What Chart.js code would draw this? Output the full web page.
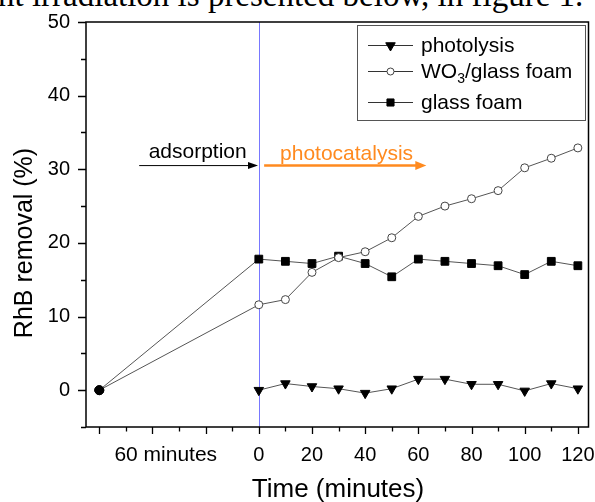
<!DOCTYPE html>
<html>
<head>
<meta charset="utf-8">
<script src="https://cdn.jsdelivr.net/npm/chart.js@4.4.0/dist/chart.umd.min.js"></script>
<style>
    html, body { margin: 0; padding: 0; background: #fff; }
    #wrap { position: relative; width: 595px; height: 502px; overflow: hidden; }
    #caption { position: absolute; left: -2px; top: -21px; font: 33px 'Liberation Serif', 'Times New Roman', serif; line-height: 33px; white-space: nowrap; color: #000; }
    canvas { position: absolute; left: 0; top: 0; }
</style>
</head>
<body>
<div id="wrap">
    <div id="caption">nt irradiation is presented below, in figure 1.</div>
    <canvas id="chart" width="595" height="502"></canvas>
</div>
<script>
// temps de prélèvement sous irradiation (minutes)
const timePoints = [0, 10, 20, 30, 40, 50, 60, 70, 80, 90, 100, 110, 120];
// point de départ : 60 minutes d'adsorption dans le noir
const adsorptionStart = -60;
const adsorptionValue = 0;

// RhB removal (%)
const photolysis   = [0, 0.9, 0.5, 0.2, -0.4, 0.2, 1.5, 1.5, 0.8, 0.8, -0.1, 0.9, 0.2];
const wo3GlassFoam = [11.6, 12.3, 16.0, 18.0, 18.8, 20.7, 23.6, 25.0, 26.0, 27.1, 30.2, 31.5, 32.9];
const glassFoam    = [17.8, 17.5, 17.2, 18.2, 17.2, 15.4, 17.8, 17.5, 17.2, 16.9, 15.7, 17.5, 16.9];

// graduations
const xTickLabels = [0, 20, 40, 60, 80, 100, 120];
const yTickLabels = [0, 10, 20, 30, 40, 50];

const FONT = "'Liberation Sans', Arial, sans-serif";
const LINE = '#555';

function toPoints(values, withStart) {
    const pts = timePoints.map((t, i) => ({ x: t, y: values[i] }));
    if (withStart) pts.unshift({ x: adsorptionStart, y: adsorptionValue });
    return pts;
}

const isStart = ctx => ctx.raw && ctx.raw.x === adsorptionStart;

// flèches, ligne bleue, cadre, graduations, titres et légende
const decorPlugin = {
    id: 'decor',
    beforeDatasetsDraw(chart) {
        const { ctx, chartArea, scales } = chart;
        const x = scales.x, y = scales.y;
        ctx.save();
        // ligne verticale au début de l'irradiation
        const x0 = Math.round(x.getPixelForValue(0)) + 0.5;
        ctx.strokeStyle = 'rgb(120, 120, 255)';
        ctx.lineWidth = 1;
        ctx.beginPath();
        ctx.moveTo(x0, chartArea.top);
        ctx.lineTo(x0, chartArea.bottom);
        ctx.stroke();

        const ay = y.getPixelForValue(30.5);
        drawArrow(ctx, x.getPixelForValue(-45), x.getPixelForValue(-0.3), ay, '#000', 1, 10, 3.5);
        drawArrow(ctx, x.getPixelForValue(2), x.getPixelForValue(63), ay, '#ff8a1f', 2.5, 11, 4.5);

        ctx.font = '21px ' + FONT;
        ctx.textAlign = 'center';
        ctx.textBaseline = 'alphabetic';
        ctx.fillStyle = '#000';
        ctx.fillText('adsorption', x.getPixelForValue(-23), ay - 8);
        ctx.fillStyle = '#ff8a1f';
        ctx.fillText('photocatalysis', x.getPixelForValue(33), ay - 6);
        ctx.restore();
    },
    afterDraw(chart) {
        const { ctx, chartArea, scales } = chart;
        const x = scales.x, y = scales.y;
        ctx.save();
        // cadre
        ctx.strokeStyle = '#000';
        ctx.lineWidth = 1.5;
        ctx.strokeRect(chartArea.left, chartArea.top, chartArea.right - chartArea.left, chartArea.bottom - chartArea.top);

        // graduations de l'axe x
        ctx.lineWidth = 1.3;
        ctx.beginPath();
        for (let v = -60; v <= 120; v += 10) {
            const px = Math.round(x.getPixelForValue(v)) + 0.5;
            const len = (v % 20 === 0) ? 7 : 4.5;
            ctx.moveTo(px, chartArea.bottom);
            ctx.lineTo(px, chartArea.bottom + len);
        }
        // graduations de l'axe y
        for (let v = -5; v <= 50; v += 5) {
            const py = Math.round(y.getPixelForValue(v)) + 0.5;
            const len = (v % 10 === 0) ? 8 : 5;
            ctx.moveTo(chartArea.left, py);
            ctx.lineTo(chartArea.left - len, py);
        }
        ctx.stroke();

        // libellés
        ctx.fillStyle = '#000';
        ctx.font = '21px ' + FONT;
        ctx.textAlign = 'center';
        ctx.textBaseline = 'alphabetic';
        ctx.fillText('60 minutes', x.getPixelForValue(-35), 461);

        ctx.font = '26px ' + FONT;
        ctx.fillText('Time (minutes)', 338, 497);
        ctx.font = '25px ' + FONT;
        ctx.save();
        ctx.translate(32, 243);
        ctx.rotate(-Math.PI / 2);
        ctx.fillText('RhB removal (%)', 0, 0);
        ctx.restore();

        drawLegend(chart);
        ctx.restore();
    }
};

function drawArrow(ctx, xFrom, xTo, yPos, color, width, headLen, headHalf) {
    ctx.strokeStyle = color;
    ctx.fillStyle = color;
    ctx.lineWidth = width;
    ctx.beginPath();
    ctx.moveTo(xFrom, yPos);
    ctx.lineTo(xTo - headLen + 1, yPos);
    ctx.stroke();
    ctx.beginPath();
    ctx.moveTo(xTo, yPos);
    ctx.lineTo(xTo - headLen, yPos - headHalf);
    ctx.lineTo(xTo - headLen, yPos + headHalf);
    ctx.closePath();
    ctx.fill();
}

function drawLegend(chart) {
    const ctx = chart.ctx;
    const bx = 357, by = 25, bw = 228, bh = 95;
    ctx.fillStyle = '#fff';
    ctx.fillRect(bx, by, bw, bh);
    ctx.strokeStyle = '#555';
    ctx.lineWidth = 1;
    ctx.strokeRect(bx + 0.5, by + 0.5, bw, bh);

    const rowsY = [45, 71, 102];
    chart.data.datasets.forEach((ds, i) => {
        const cy = rowsY[i];
        ctx.strokeStyle = '#333';
        ctx.lineWidth = 1;
        ctx.beginPath();
        ctx.moveTo(368, cy + 0.5);
        ctx.lineTo(413, cy + 0.5);
        ctx.stroke();
        ctx.fillStyle = ds.legendFill;
        ctx.strokeStyle = ds.legendStroke;
        Chart.helpers.drawPoint(ctx, {
            pointStyle: ds.legendStyle,
            radius: ds.legendRadius,
            rotation: ds.legendRotation || 0,
            borderWidth: 1
        }, 390.5, cy + 0.5);

        ctx.fillStyle = '#000';
        ctx.textAlign = 'left';
        ctx.textBaseline = 'alphabetic';
        ctx.font = '21px ' + FONT;
        let tx = 421;
        const base = cy + 7;
        ds.labelParts.forEach(part => {
            if (part.sub) {
                ctx.font = '14px ' + FONT;
                ctx.fillText(part.text, tx, base + 5);
                tx += ctx.measureText(part.text).width;
                ctx.font = '21px ' + FONT;
            } else {
                ctx.fillText(part.text, tx, base);
                tx += ctx.measureText(part.text).width;
            }
        });
    });
}

new Chart(document.getElementById('chart'), {
    type: 'line',
    data: {
        datasets: [
            {
                label: 'photolysis',
                labelParts: [{ text: 'photolysis' }],
                data: toPoints(photolysis, false),
                borderColor: LINE,
                borderWidth: 1,
                pointStyle: 'triangle',
                pointRotation: 180,
                pointRadius: 5.5,
                pointBackgroundColor: '#000',
                pointBorderColor: '#000',
                pointBorderWidth: 1,
                legendStyle: 'triangle', legendRotation: 180, legendRadius: 5.5,
                legendFill: '#000', legendStroke: '#000'
            },
            {
                label: 'WO3/glass foam',
                labelParts: [{ text: 'WO' }, { text: '3', sub: true }, { text: '/glass foam' }],
                data: toPoints(wo3GlassFoam, true),
                borderColor: LINE,
                borderWidth: 1,
                pointStyle: 'circle',
                pointRadius: ctx => isStart(ctx) ? 4.5 : 4,
                pointBackgroundColor: ctx => isStart(ctx) ? '#000' : '#fff',
                pointBorderColor: ctx => isStart(ctx) ? '#000' : '#444',
                pointBorderWidth: 1,
                legendStyle: 'circle', legendRadius: 3.5,
                legendFill: '#fff', legendStroke: '#444'
            },
            {
                label: 'glass foam',
                labelParts: [{ text: 'glass foam' }],
                data: toPoints(glassFoam, true),
                borderColor: LINE,
                borderWidth: 1,
                pointStyle: ctx => isStart(ctx) ? 'circle' : 'rect',
                pointRadius: ctx => isStart(ctx) ? 4.5 : 5.5,
                pointBackgroundColor: '#000',
                pointBorderColor: '#000',
                pointBorderWidth: 1,
                legendStyle: 'rect', legendRadius: 5,
                legendFill: '#000', legendStroke: '#000'
            }
        ]
    },
    options: {
        responsive: false,
        animation: false,
        devicePixelRatio: 1,
        layout: { padding: { top: 22, left: 0, right: 6, bottom: 0 } },
        plugins: {
            legend: { display: false },
            tooltip: { enabled: false }
        },
        scales: {
            x: {
                type: 'linear',
                min: -65,
                max: 124,
                grid: { display: false, drawTicks: false },
                border: { display: false },
                ticks: {
                    color: '#000',
                    font: { family: FONT, size: 20 },
                    padding: 16,
                    autoSkip: false,
                    maxRotation: 0
                },
                afterBuildTicks: scale => { scale.ticks = xTickLabels.map(v => ({ value: v })); },
                afterFit: scale => {
                    scale.height = 75;
                    scale.paddingLeft = 0;
                    scale.paddingRight = 0;
                }
            },
            y: {
                type: 'linear',
                min: -5,
                max: 50,
                grid: { display: false, drawTicks: false },
                border: { display: false },
                ticks: {
                    color: '#000',
                    font: { family: FONT, size: 20 },
                    padding: 16
                },
                afterBuildTicks: scale => { scale.ticks = yTickLabels.map(v => ({ value: v })); },
                afterFit: scale => {
                    scale.width = 86;
                    scale.paddingTop = 0;
                    scale.paddingBottom = 0;
                }
            }
        }
    },
    plugins: [decorPlugin]
});
</script>
</body>
</html>
